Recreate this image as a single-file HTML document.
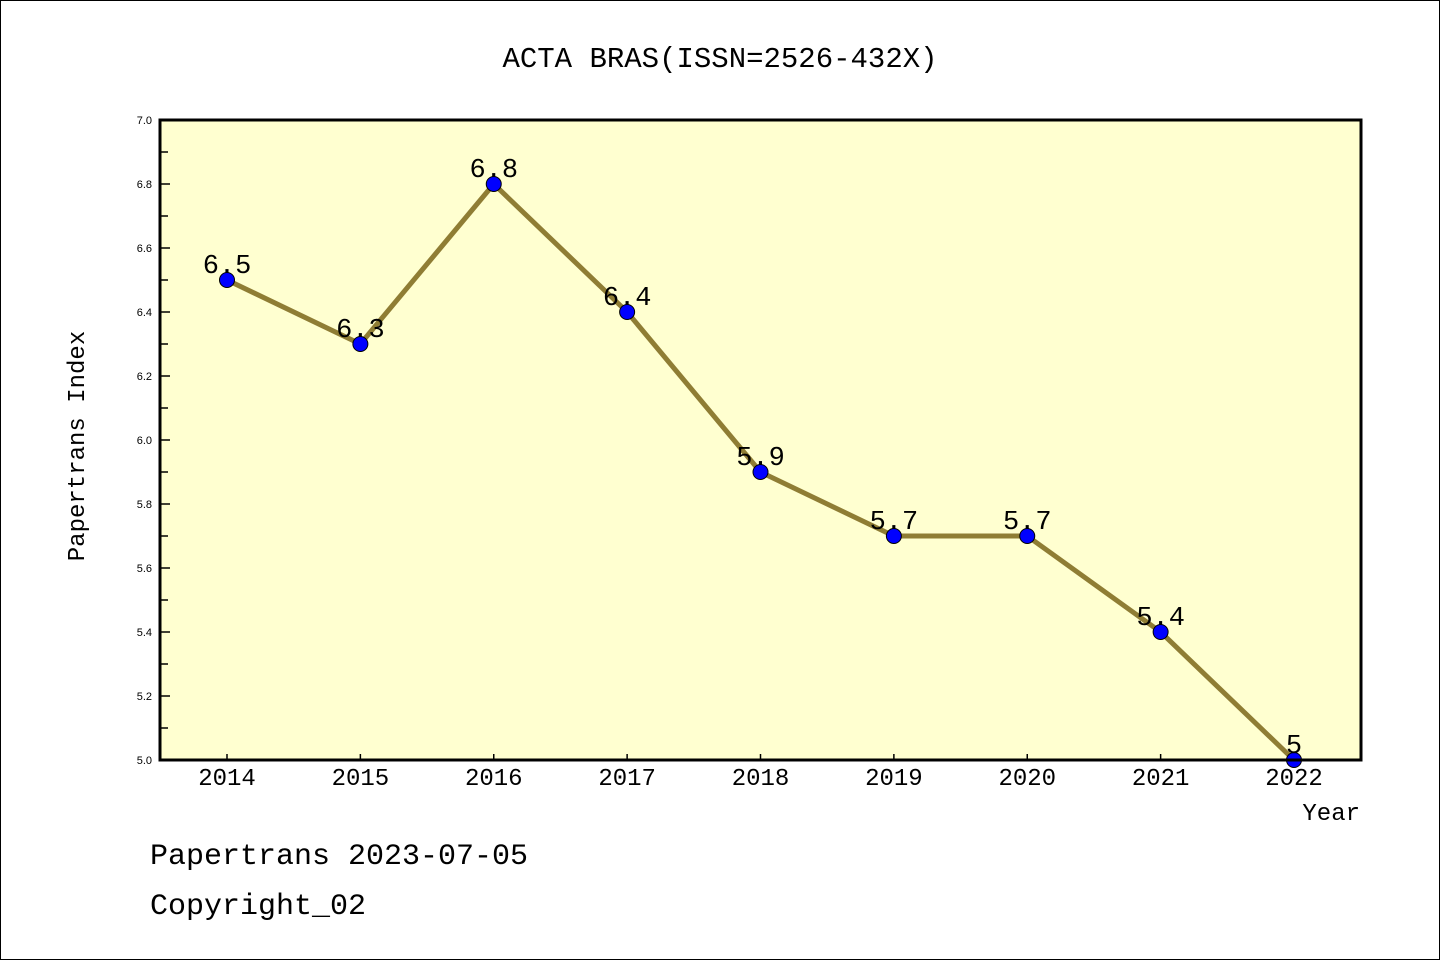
<!DOCTYPE html>
<html><head><meta charset="utf-8">
<style>
html,body{margin:0;padding:0;background:#fff;}
svg{display:block;}
text{font-family:"Liberation Mono","DejaVu Sans Mono",monospace;}
.sans{font-family:"Liberation Sans",sans-serif;}
</style></head>
<body>
<svg id="chart" width="1440" height="960" xmlns="http://www.w3.org/2000/svg">
<rect x="0.5" y="0.5" width="1439" height="959" fill="#fff" stroke="#000" stroke-width="1"/>
<text x="720" y="67" font-size="29" text-anchor="middle">ACTA BRAS(ISSN=2526-432X)</text>
<rect x="160" y="120" width="1201" height="640" fill="#ffffd0"/>
<g id="yticks"></g>
<g id="xticks"></g>
<g id="series"></g>
<rect x="160" y="120" width="1201" height="640" fill="none" stroke="#000" stroke-width="3"/>
<text transform="translate(84,446) rotate(-90)" font-size="24" text-anchor="middle">Papertrans Index</text>
<text x="1360" y="820" font-size="24" text-anchor="end">Year</text>
<text x="150" y="864" font-size="30">Papertrans 2023-07-05</text>
<text x="150" y="914" font-size="30">Copyright_02</text>
</svg>
<script>
const years = [2014,2015,2016,2017,2018,2019,2020,2021,2022];
const values = [6.5,6.3,6.8,6.4,5.9,5.7,5.7,5.4,5.0];
const valueLabels = ["6.5","6.3","6.8","6.4","5.9","5.7","5.7","5.4","5"];
const yTicks = ["5.0","5.2","5.4","5.6","5.8","6.0","6.2","6.4","6.6","6.8","7.0"];
const NS="http://www.w3.org/2000/svg";
const x0=160,x1=1361,y0=120,y1=760,yMin=5.0,yMax=7.0;
const xStart=227,xEnd=1294;
function xs(i){return xStart+(xEnd-xStart)*i/(years.length-1);}
function ys(v){return y1-(v-yMin)/(yMax-yMin)*(y1-y0);}
function mk(tag,attrs,parent){const e=document.createElementNS(NS,tag);for(const k in attrs)e.setAttribute(k,attrs[k]);parent.appendChild(e);return e;}
const yg=document.getElementById('yticks');
yTicks.forEach((t)=>{
  const v=parseFloat(t), y=ys(v);
  const l=mk('line',{x1:x0,x2:x0+10,y1:y,y2:y,stroke:'#000','stroke-width':1.5},yg);
  
  
  const tx=mk('text',{x:x0-8,y:y+4,'font-size':11,'text-anchor':'end','class':'sans'},yg);
  tx.textContent=t;
  
  
  if(v<yMax-0.01){
    const m=mk('line',{x1:x0,x2:x0+8,y1:ys(v+0.1),y2:ys(v+0.1),stroke:'#000','stroke-width':1.5},yg);
    
    
  }
});
const xg=document.getElementById('xticks');
years.forEach((yr,i)=>{
  const x=xs(i);
  const l=mk('line',{x1:x,x2:x,y1:y1,y2:y1-6,stroke:'#000','stroke-width':1.5},xg);
  
  
  const tx=mk('text',{x:x,y:785,'font-size':24,'text-anchor':'middle'},xg);
  tx.textContent=yr;
  
  
});
const sg=document.getElementById('series');
const pl=mk('polyline',{points:values.map((v,i)=>xs(i)+','+ys(v)).join(' '),fill:'none',stroke:'#8f7d34','stroke-width':5,'stroke-linejoin':'round'},sg);


values.forEach((v,i)=>{
  const c=mk('circle',{cx:xs(i),cy:ys(v),r:7.5,fill:'#0000ff',stroke:'#000','stroke-width':1},sg);
  
  
  const t=mk('text',{x:xs(i),y:ys(v)-7,'font-size':27,'text-anchor':'middle'},sg);
  t.textContent=valueLabels[i];
  
  
});
</script>
</body></html>
